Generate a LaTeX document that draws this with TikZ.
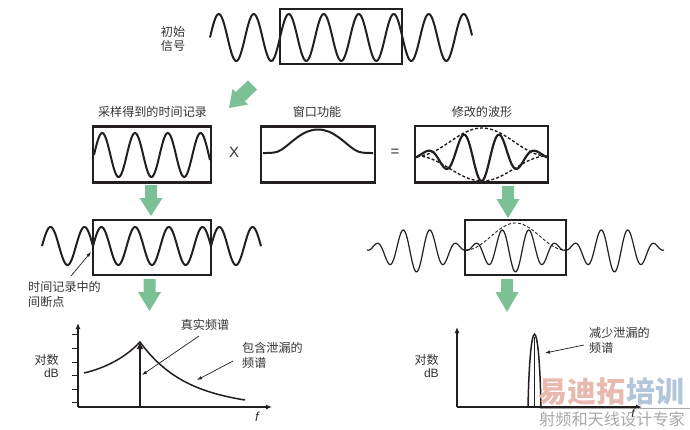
\documentclass[tikz,border=0pt]{standalone}
\usepackage{fontspec}
\setmainfont{Noto Sans CJK SC}
\newfontfamily\latfont{Liberation Sans}
\usetikzlibrary{arrows.meta}
\definecolor{ink}{HTML}{231F20}
\definecolor{txt}{HTML}{333333}
\definecolor{grn}{HTML}{7CC195}
\definecolor{wmred}{HTML}{E8B9AE}
\definecolor{wmblue}{HTML}{B3C6D9}
\definecolor{wmgray}{HTML}{A8A8A8}
\tikzset{
  wbox/.style={draw=ink,line width=2.3pt,inner sep=0pt,fill=none},
  wave/.style={draw=ink,line width=2pt,smooth,line join=round},
  thinwave/.style={draw=ink,line width=1.2pt,smooth,line join=round},
  env/.style={draw=ink,line width=1.4pt,dash pattern=on 3pt off 2pt,smooth},
  lab/.style={text=txt,font=\fontsize{12.1}{13}\selectfont,inner sep=0pt},
  axis/.style={draw=ink,line width=1.5pt,-{Latex[length=6pt,width=5pt]}},
  tick/.style={draw=ink,line width=1pt},
  spec/.style={draw=ink,line width=1.5pt},
  lead/.style={draw=ink,line width=0.7pt,-{Latex[length=5pt,width=3.5pt]}},
  garrow/.style={fill=grn,draw=none}
}
\newcommand{\gdown}[4]{% x, top, head y, tip
  \fill[garrow] (#1-6,#2) -- (#1+6,#2) -- (#1+6,#3) -- (#1+11.5,#3) -- (#1,#4) -- (#1-11.5,#3) -- (#1-6,#3) -- cycle;}
\begin{document}
\begin{tikzpicture}[x=1pt,y=-1pt]
\useasboundingbox (0,0) rectangle (690,429);
% top signal
\draw[wave] plot[samples=260,domain=210:472] (\x,{37.5-23.5*sin((\x-210)/35*360)});
\node[wbox,minimum width=122pt,minimum height=55pt] (topbox) at (341,36.7) {};
\node[lab,align=center] (toplab) at (173,39) {初始\\[1pt]信号};
% diagonal arrow
\fill[garrow] (229,108) -- (232.5,89) -- (235.7,92.1) -- (248,80.4) -- (257,89.6) -- (244.9,101.3) -- (248,104.5) -- cycle;
% row 2
\node[lab] (l1) at (152.5,112) {采样得到的时间记录};
\node[lab] (l2) at (317,112) {窗口功能};
\node[lab] (l3) at (482,112) {修改的波形};
\node[wbox,minimum width=117.5pt,minimum height=56pt] (samp) at (152,154.5) {};
\draw[wave] plot[samples=130,domain=94:210] (\x,{155-22*sin((\x-94)/32.8*360)});
\node[text=txt,inner sep=0pt,font=\latfont\fontsize{15}{15}\selectfont] (times) at (234,152) {X};
\node[wbox,minimum width=114pt,minimum height=56pt] (winbox) at (318,154.5) {};
\draw[wave] (263,153) .. controls (272,153) and (276,153) .. (281,150) .. controls (292,143) and (302,129.5) .. (318,129.5) .. controls (334,129.5) and (344,143) .. (355,150) .. controls (360,153) and (364,153) .. (373,153);
\node[text=txt,inner sep=0pt,font=\latfont\fontsize{15}{15}\selectfont] (eq) at (395,153) {=};
\node[wbox,minimum width=133pt,minimum height=56.5pt] (modbox) at (481.5,154.3) {};
\draw[env] plot[samples=60,domain=417:547] (\x,{156-28*(0.5+0.5*cos((\x-482)/65*180))});
\draw[env] plot[samples=60,domain=417:547] (\x,{156+25*(0.5+0.5*cos((\x-482)/65*180))});
\draw[wave,line width=2.2pt] plot[samples=160,domain=416:547] (\x,{156+25*(0.14+0.86*(0.5+0.5*cos((\x-481.5)/65.5*180)))*cos((\x-481.5)/36*360)});
% green arrows
\gdown{151}{185}{198}{216}
\gdown{508}{186}{199}{218}
\gdown{149.5}{279}{292}{311}
\gdown{507}{279}{292}{312}
% row 3 left
\node[wbox,minimum width=118pt,minimum height=55pt] (recbox) at (152,247.5) {};
\draw[wave] plot[samples=80,domain=42:93] (\x,{246-19*sin((\x-42)/34*360)});
\draw[wave] plot[samples=130,domain=93:211] (\x,{246-19*sin((\x-93)/33.7*360)});
\draw[wave] plot[samples=70,domain=211:261] (\x,{246-19*sin((\x-211)/33.3*360)});
\node[lab,align=left,anchor=north west] (breaklab) at (28,281) {时间记录中的\\[2pt]间断点};
\coordinate (brkS) at (71,276);
\coordinate (brkE) at (91,252);
\draw[lead] (brkS) -- (brkE);
% row 3 right
\node[wbox,minimum width=101pt,minimum height=55pt] (recbox2) at (515.5,247.5) {};
\foreach \c/\a/\b in {416.5/367/466,515.5/466/565,614.5/565/664}{
  \draw[thinwave] plot[samples=110,domain=\a:\b] (\x,{250+22*abs(cos((\x-\c)/99*180))*cos((\x-\c)/27*360)});
}
\draw[env,line width=0.9pt] plot[samples=60,domain=466:565] (\x,{250-27*(0.5+0.5*cos((\x-515.5)/49.5*180))});
% left chart
\coordinate (o1) at (78,407);
\coordinate (yt1) at (78,323);
\coordinate (xt1) at (272,407);
\draw[axis] (o1) -- (yt1);
\draw[axis] (o1) -- (xt1);
\foreach \y in {334.7,348.7,362.3,375.3,389,402.3}{\draw[tick] (72,\y) -- (78,\y);}
\coordinate (pk1) at (140,342);
\coordinate (base1) at (140,407);
\draw[spec] (84,373) .. controls (105,368) and (125,358) .. (pk1) .. controls (165,376) and (195,392) .. (245,400);
\draw[spec,-{Latex[length=7pt,width=7pt]}] (base1) -- (pk1);
\node[lab,align=right,anchor=north east] (db1) at (59,354) {对数\\[0pt]{\latfont dB}};
\node[lab] (truelab) at (205,325) {真实频谱};
\coordinate (trS) at (199,336);
\coordinate (trE) at (142,375);
\draw[lead] (trS) -- (trE);
\node[lab,align=left,anchor=north west] (leaklab) at (242,342) {包含泄漏的\\[2pt]频谱};
\coordinate (lkS) at (233,361);
\coordinate (lkE) at (197,380);
\draw[lead] (lkS) -- (lkE);
\node[text=txt,inner sep=0pt,font=\latfont\itshape\fontsize{13}{13}\selectfont] (f1) at (257,417) {f};
% right chart
\coordinate (o2) at (457,407);
\coordinate (yt2) at (457,327);
\coordinate (xt2) at (642,407);
\draw[axis] (o2) -- (yt2);
\draw[axis] (o2) -- (xt2);
\draw[spec] (528,407) .. controls (530,310) and (539,310) .. (541,407);
\coordinate (pk2) at (534.5,337);
\coordinate (base2) at (534.5,407);
\draw[spec] (base2) -- (pk2);
\node[lab,align=right,anchor=north east] (db2) at (439,354) {对数\\[0pt]{\latfont dB}};
\node[lab,align=left,anchor=north west] (redlab) at (589,327) {减少泄漏的\\[2pt]频谱};
\coordinate (rdS) at (584,345);
\coordinate (rdE) at (545,353);
\draw[lead] (rdS) -- (rdE);
% watermark
\node[inner sep=0pt,anchor=west,text=wmred,font=\bfseries\fontsize{29}{29}\selectfont] (wm1) at (538,391.5) {易迪拓};
\node[inner sep=0pt,anchor=east,text=wmblue,font=\bfseries\fontsize{29}{29}\selectfont] (wm2) at (685,391.5) {培训};
\fill[wmgray] (540,407.5) rectangle (690,408.5);
\node[inner sep=0pt,text=wmgray,font=\fontsize{16.2}{17}\selectfont] (wm3) at (612,419.5) {射频和天线设计专家};
\node[text=txt,inner sep=0pt,font=\latfont\itshape\fontsize{12}{12}\selectfont] (f2) at (633,413.5) {f};
\end{tikzpicture}
\end{document}
